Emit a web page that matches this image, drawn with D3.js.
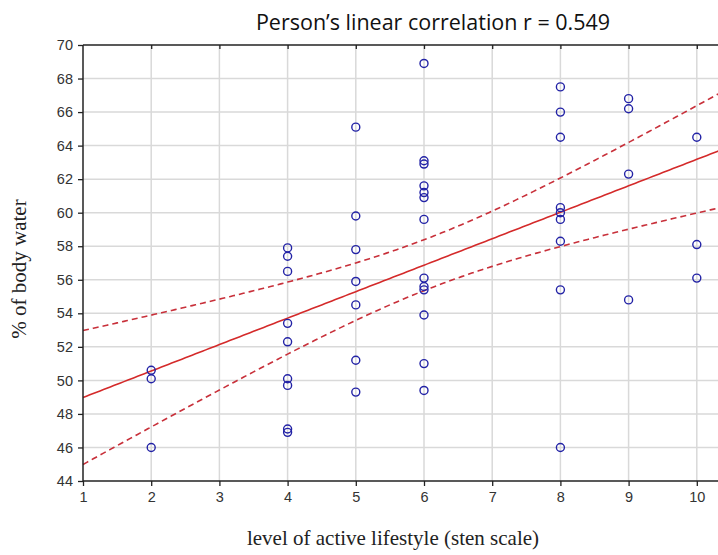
<!DOCTYPE html>
<html>
<head>
<meta charset="utf-8">
<script src="https://cdnjs.cloudflare.com/ajax/libs/d3/7.8.5/d3.min.js"></script>
<style>
  body { margin: 0; background: #fff; }
  svg { display: block; }
</style>
</head>
<body>
<div id="chart"></div>
<script>
// sten level of each respondent and their body water %
const lifestyle = [
  2, 2, 2,
  4, 4, 4, 4, 4, 4, 4, 4, 4,
  5, 5, 5, 5, 5, 5, 5,
  6, 6, 6, 6, 6, 6, 6, 6, 6, 6, 6, 6, 6,
  8, 8, 8, 8, 8, 8, 8, 8, 8,
  9, 9, 9, 9,
  10, 10, 10
];
const bodyWater = [
  50.6, 50.1, 46.0,
  57.9, 57.4, 56.5, 53.4, 52.3, 50.1, 49.7, 47.1, 46.9,
  65.1, 59.8, 57.8, 55.9, 54.5, 51.2, 49.3,
  68.9, 63.1, 62.9, 61.6, 61.2, 60.9, 59.6, 56.1, 55.6, 55.4, 53.9, 51.0, 49.4,
  67.5, 66.0, 64.5, 60.3, 60.0, 59.6, 58.3, 55.4, 46.0,
  66.8, 66.2, 62.3, 54.8,
  64.5, 58.1, 56.1
];
const xTicks = [1, 2, 3, 4, 5, 6, 7, 8, 9, 10];
const yTicks = [44, 46, 48, 50, 52, 54, 56, 58, 60, 62, 64, 66, 68, 70];
const title = "Person\u2019s linear correlation r = 0.549";

const width = 718, height = 555;
const margin = { top: 45, left: 83, bottom: 74 };

const svg = d3.select("#chart").append("svg")
  .attr("width", width)
  .attr("height", height);

const x = d3.scaleLinear().domain([1, 10.5]).range([margin.left, margin.left + 9.5 * 68.2]);
const y = d3.scaleLinear().domain([44, 70]).range([height - margin.bottom - 0, margin.top]);

const x0 = x.range()[0], x1 = x.range()[1];
const y0 = y.range()[0], y1 = y.range()[1];

// grid
svg.append("g")
  .selectAll("line.vg")
  .data(xTicks.slice(1))
  .join("line")
  .attr("x1", d => x(d)).attr("x2", d => x(d))
  .attr("y1", y1).attr("y2", y0)
  .attr("stroke", "#d9d9d9").attr("stroke-width", 1.5);

svg.append("g")
  .selectAll("line.hg")
  .data(yTicks.slice(1, -1))
  .join("line")
  .attr("x1", x0).attr("x2", x1)
  .attr("y1", d => y(d)).attr("y2", d => y(d))
  .attr("stroke", "#d9d9d9").attr("stroke-width", 1.5);

// regression + 95% confidence band
const n = lifestyle.length;
const mx = d3.mean(lifestyle), my = d3.mean(bodyWater);
let sxx = 0, sxy = 0;
lifestyle.forEach((v, i) => {
  sxx += (v - mx) * (v - mx);
  sxy += (v - mx) * (bodyWater[i] - my);
});
const slope = sxy / sxx;
const icpt = my - slope * mx;
let sse = 0;
lifestyle.forEach((v, i) => {
  const r = bodyWater[i] - (icpt + slope * v);
  sse += r * r;
});
const se = Math.sqrt(sse / (n - 2));
const tcrit = 2.013;

const xs = d3.range(1, 10.51, 0.05);
const fit = v => icpt + slope * v;
const band = v => tcrit * se * Math.sqrt(1 / n + (v - mx) * (v - mx) / sxx);

const line = d3.line().x(d => x(d[0])).y(d => y(d[1]));

const plot = svg.append("g");
plot.append("path")
  .datum(xs.map(v => [v, fit(v)]))
  .attr("d", line)
  .attr("fill", "none").attr("stroke", "#d42a2a").attr("stroke-width", 1.6);

[1, -1].forEach(sgn => {
  plot.append("path")
    .datum(xs.map(v => [v, fit(v) + sgn * band(v)]))
    .attr("d", line)
    .attr("fill", "none").attr("stroke", "#c8303a").attr("stroke-width", 1.6)
    .attr("stroke-dasharray", "6,4");
});

// points
plot.selectAll("circle")
  .data(lifestyle.map((v, i) => [v, bodyWater[i]]))
  .join("circle")
  .attr("cx", d => x(d[0]))
  .attr("cy", d => y(d[1]))
  .attr("r", 4)
  .attr("fill", "none")
  .attr("stroke", "#2323a6")
  .attr("stroke-width", 1.4);

// frame
const frame = svg.append("g").attr("stroke", "#222").attr("stroke-width", 1.5);
frame.append("line").attr("x1", x0).attr("x2", x1).attr("y1", y1).attr("y2", y1);
frame.append("line").attr("x1", x0).attr("x2", x1).attr("y1", y0).attr("y2", y0);
frame.append("line").attr("x1", x0).attr("x2", x0).attr("y1", y1).attr("y2", y0);

// axes
const font = "'Liberation Sans', Arial, sans-serif";
const xAxis = svg.append("g")
  .attr("transform", `translate(0,${y0})`)
  .call(d3.axisBottom(x).tickValues(xTicks).tickSize(5).tickPadding(6).tickFormat(d3.format("d")));
xAxis.select(".domain").remove();
xAxis.selectAll("text").attr("font-family", font).attr("font-size", 14.5).attr("fill", "#333");
xAxis.selectAll("line").attr("stroke", "#222").attr("stroke-width", 1.3);

const xTop = svg.append("g")
  .attr("transform", `translate(0,${y1})`)
  .call(d3.axisBottom(x).tickValues(xTicks.slice(1)).tickSize(4).tickFormat(""));
xTop.select(".domain").remove();
xTop.selectAll("line").attr("stroke", "#222").attr("stroke-width", 1.3);

const yAxis = svg.append("g")
  .attr("transform", `translate(${x0},0)`)
  .call(d3.axisLeft(y).tickValues(yTicks).tickSize(5).tickPadding(5).tickFormat(d3.format("d")));
yAxis.select(".domain").remove();
yAxis.selectAll("text").attr("font-family", font).attr("font-size", 14.5).attr("fill", "#333");
yAxis.selectAll("line").attr("stroke", "#222").attr("stroke-width", 1.3);

// titles
svg.append("text")
  .attr("x", 433).attr("y", 30)
  .attr("text-anchor", "middle")
  .attr("font-family", "'Open Sans', 'Noto Sans', sans-serif")
  .attr("font-size", 21.5)
  .attr("fill", "#111")
  .text(title);

svg.append("text")
  .attr("x", 393).attr("y", 545)
  .attr("text-anchor", "middle")
  .attr("font-family", "'Liberation Serif', 'Times New Roman', serif")
  .attr("font-size", 21)
  .attr("fill", "#222")
  .text("level of active lifestyle (sten scale)");

svg.append("text")
  .attr("transform", "translate(26,269) rotate(-90)")
  .attr("text-anchor", "middle")
  .attr("font-family", "'Liberation Serif', 'Times New Roman', serif")
  .attr("font-size", 21)
  .attr("fill", "#222")
  .text("% of body water");
</script>
</body>
</html>
